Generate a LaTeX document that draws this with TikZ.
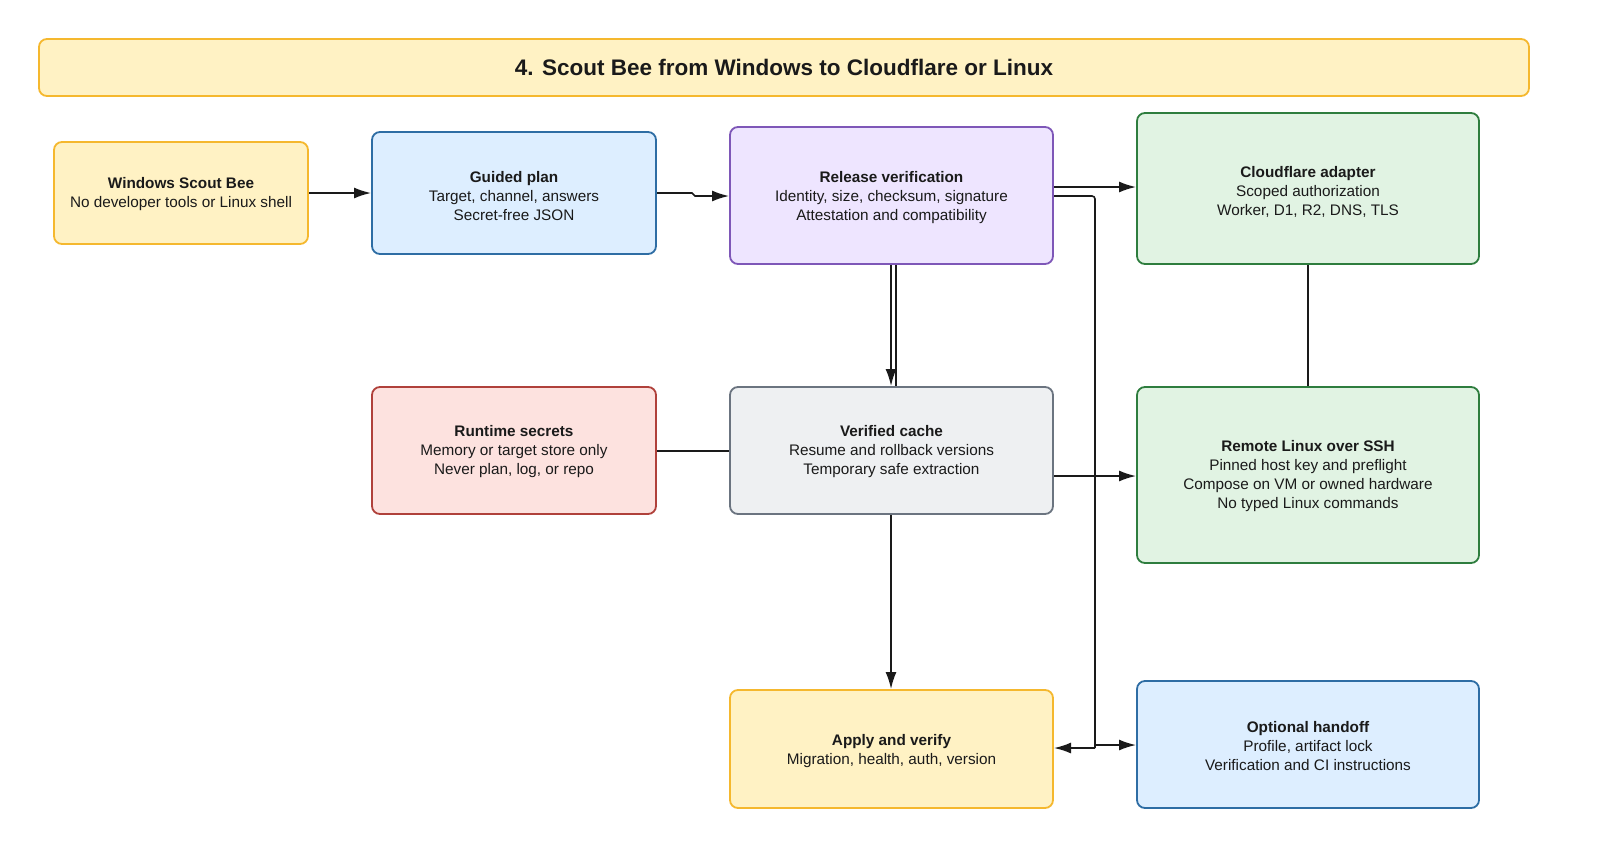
\documentclass[tikz,border=0pt]{standalone}
\usepackage{fontspec}
\setmainfont{Liberation Sans}
\usetikzlibrary{arrows.meta}
\definecolor{yf}{HTML}{FFF2C4}\definecolor{yd}{HTML}{F5B82E}
\definecolor{bf}{HTML}{DDEEFF}\definecolor{bd}{HTML}{2E6DA4}
\definecolor{pf}{HTML}{EEE5FF}\definecolor{pd}{HTML}{7E57B8}
\definecolor{gf}{HTML}{E1F3E3}\definecolor{gd}{HTML}{2E7D3E}
\definecolor{rf}{HTML}{FDE2DF}\definecolor{rd}{HTML}{B0413B}
\definecolor{cf}{HTML}{EEF0F2}\definecolor{cd}{HTML}{6B7480}
\definecolor{ln}{HTML}{1A1A1A}
\begin{document}
\begin{tikzpicture}[x=1pt,y=-1pt,
  bx/.style={draw,line width=1.8pt,rounded corners=8pt,inner sep=0pt,outer sep=0pt},
  ar/.style={draw=ln,line width=1.6pt,-{Latex[length=17pt,width=11pt]}},
  pl/.style={draw=ln,line width=1.6pt},
  tx/.style={align=center,font=\fontsize{15.3}{19}\selectfont,text=ln}]
\useasboundingbox[fill=white] (0,0) rectangle (1600,865);
\newcommand{\bxn}[7]{\path[bx,draw=#6,fill=#7] (#2,#3) rectangle (#4,#5); \coordinate (#1) at ({(#2+#4)/2},{(#3+#5)/2});}
\bxn{t}{39}{39}{1529}{96}{yd}{yf}
\node[font=\fontsize{22.5}{26}\selectfont\bfseries,text=ln] at (t) {4. Scout Bee from Windows to Cloudflare or Linux};
\bxn{ws}{54}{142}{308}{244}{yd}{yf}
\bxn{gp}{372}{132}{656}{254}{bd}{bf}
\bxn{rv}{730}{127}{1053}{264}{pd}{pf}
\bxn{cfa}{1137}{113}{1479}{264}{gd}{gf}
\bxn{rs}{372}{387}{656}{514}{rd}{rf}
\bxn{vc}{730}{387}{1053}{514}{cd}{cf}
\bxn{rl}{1137}{387}{1479}{563}{gd}{gf}
\bxn{ap}{730}{690}{1053}{808}{yd}{yf}
\bxn{oh}{1137}{681}{1479}{808}{bd}{bf}
\node[tx] at ([yshift=-1]ws) {\textbf{Windows Scout Bee}\\No developer tools or Linux shell};
\node[tx] at ([yshift=-3]gp) {\textbf{Guided plan}\\Target, channel, answers\\Secret-free JSON};
\node[tx] at ([yshift=-2]rv) {\textbf{Release verification}\\Identity, size, checksum, signature\\Attestation and compatibility};
\node[tx] at ([yshift=-3]cfa) {\textbf{Cloudflare adapter}\\Scoped authorization\\Worker, D1, R2, DNS, TLS};
\node[tx] at ([yshift=-1]rs) {\textbf{Runtime secrets}\\Memory or target store only\\Never plan, log, or repo};
\node[tx] at ([yshift=-1]vc) {\textbf{Verified cache}\\Resume and rollback versions\\Temporary safe extraction};
\node[tx] at ([yshift=-1]rl) {\textbf{Remote Linux over SSH}\\Pinned host key and preflight\\Compose on VM or owned hardware\\No typed Linux commands};
\node[tx] at ([yshift=-2]ap) {\textbf{Apply and verify}\\Migration, health, auth, version};
\node[tx] at ([yshift=-2]oh) {\textbf{Optional handoff}\\Profile, artifact lock\\Verification and CI instructions};
% connectors
\coordinate (a1) at (309,193); \coordinate (a2) at (371,193);
\draw[ar] (a1) -- (a2);
\coordinate (b1) at (657,193); \coordinate (b2) at (729,196);
\draw[ar] (b1) -- (692,193) -- (695,196) -- (b2);
\coordinate (c1) at (1054,187); \coordinate (c2) at (1136,187);
\draw[ar] (c1) -- (c2);
\coordinate (d1) at (891,265); \coordinate (d2) at (891,386);
\draw[ar] (d1) -- (d2);
\coordinate (e1) at (896,265); \coordinate (e2) at (896,386);
\draw[pl] (e1) -- (e2);
\coordinate (f1) at (657,451); \coordinate (f2) at (729,451);
\draw[pl] (f1) -- (f2);
\coordinate (g1) at (1308,265); \coordinate (g2) at (1308,386);
\draw[pl] (g1) -- (g2);
\coordinate (h1) at (1054,476); \coordinate (h2) at (1136,476);
\draw[ar] (h1) -- (h2);
\coordinate (i1) at (891,515); \coordinate (i2) at (891,689);
\draw[ar] (i1) -- (i2);
\coordinate (j0) at (1054,196); \coordinate (j) at (1095,748);
\draw[pl,rounded corners=3pt] (j0) -- (1095,196) -- (j);
\coordinate (k1) at (1054,748); \coordinate (k2) at (1136,745);
\draw[ar] (j) -- (k1);
\draw[ar] (1095,745) -- (k2);
\end{tikzpicture}
\end{document}
